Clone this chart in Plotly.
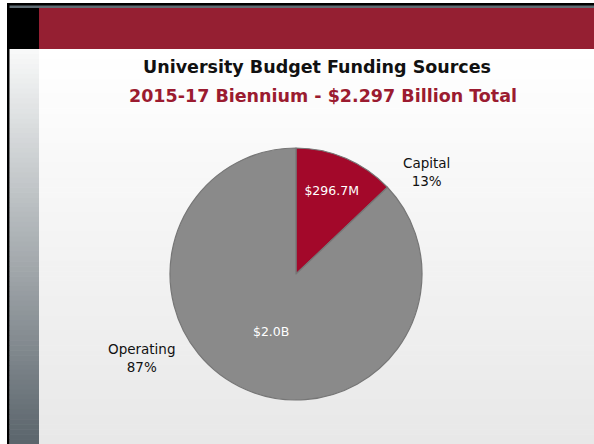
import plotly.graph_objects as go

# Funding sources, 2015-17 biennium (millions of dollars)
categories = ["Capital", "Operating"]
amounts_musd = [296.7, 2000.3]
value_labels = ["$296.7M", "$2.0B"]
slice_colors = ["#A3082A", "#8A8A8A"]

title_text = "University Budget Funding Sources"
subtitle_text = "2015-17 Biennium - $2.297 Billion Total"

W, H = 594, 444
total = sum(amounts_musd)
percents = [round(100 * v / total) for v in amounts_musd]


def px(x):
    return x / W


def py(y):
    return 1 - y / H


def lerp_color(c1, c2, t):
    a = [int(c1[i:i + 2], 16) for i in (1, 3, 5)]
    b = [int(c2[i:i + 2], 16) for i in (1, 3, 5)]
    return "rgb(%d,%d,%d)" % tuple(round(a[k] + (b[k] - a[k]) * t) for k in range(3))


def rect(x0, y0, x1, y1, color):
    return dict(type="rect", xref="paper", yref="paper", layer="below",
                x0=px(x0), x1=px(x1), y0=py(y1), y1=py(y0),
                fillcolor=color, line=dict(width=0))


shapes = []
# vertical gradients: main content area and the left side strip
n_bands = 80
band_top, band_bottom = 49, H
step = (band_bottom - band_top) / n_bands
for i in range(n_bands):
    t = i / (n_bands - 1)
    y0 = band_top + i * step
    y1 = y0 + step + 0.6
    shapes.append(rect(39, y0, W, y1, lerp_color("#FFFFFF", "#E8E8E8", t)))
    shapes.append(rect(9.5, y0, 39, y1, lerp_color("#F8F9F9", "#5B656C", t)))

# frame and header band
shapes.append(rect(7, 3, W, 49, "#000000"))
shapes.append(rect(7, 3, 9.5, H, "#000000"))
shapes.append(rect(9.5, 5.5, W, 8, "#5E6B72"))
shapes.append(rect(39, 8, W, 49, "#951F32"))

fig = go.Figure(go.Pie(
    labels=categories,
    values=amounts_musd,
    text=value_labels,
    textinfo="text",
    textposition="inside",
    insidetextorientation="horizontal",
    textfont=dict(family="DejaVu Sans", size=12.5, color="#FFFFFF"),
    marker=dict(colors=slice_colors, line=dict(color="#767676", width=1.2)),
    sort=False,
    direction="clockwise",
    rotation=0,
    hole=0,
    domain=dict(x=[px(170), px(422)], y=[py(400), py(148)]),
    hoverinfo="label+percent",
))

annotations = [
    dict(text="<b>%s</b>" % title_text, x=px(317), y=py(67),
         font=dict(family="DejaVu Sans", size=17.5, color="#111111")),
    dict(text="<b>%s</b>" % subtitle_text, x=px(323), y=py(96),
         font=dict(family="DejaVu Sans", size=17.5, color="#9B1B30")),
    dict(text="%s<br>%d%%" % (categories[0], percents[0]), x=px(426), y=py(172),
         font=dict(family="DejaVu Sans", size=13.5, color="#111111")),
    dict(text="%s<br>%d%%" % (categories[1], percents[1]), x=px(142), y=py(358),
         font=dict(family="DejaVu Sans", size=13.5, color="#111111")),
]
for a in annotations:
    a.update(xref="paper", yref="paper", xanchor="center", yanchor="middle",
             showarrow=False)

fig.update_layout(
    width=W, height=H,
    margin=dict(l=0, r=0, t=0, b=0),
    paper_bgcolor="#FFFFFF",
    plot_bgcolor="rgba(0,0,0,0)",
    showlegend=False,
    shapes=shapes,
    annotations=annotations,
)

fig.write_html("out.html")
